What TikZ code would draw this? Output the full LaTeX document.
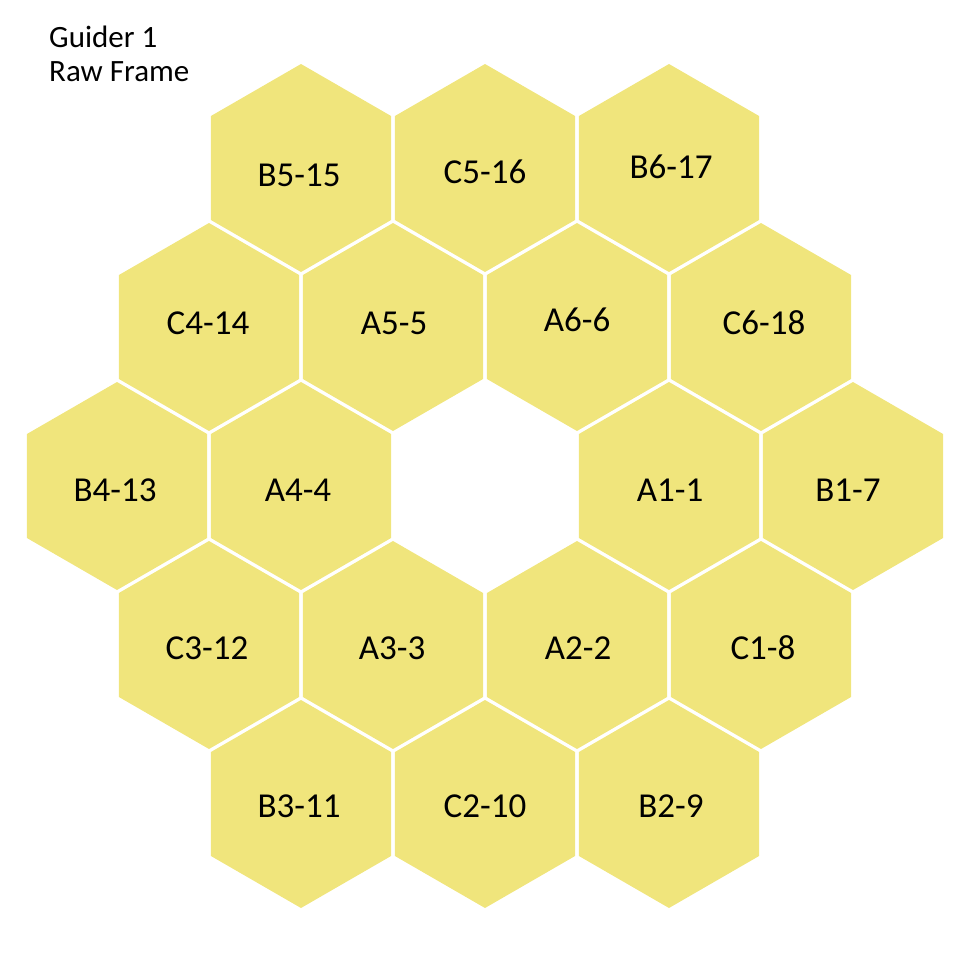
\documentclass[tikz,border=0pt]{standalone}
\usepackage{fontspec}
\setmainfont{Carlito}
\usetikzlibrary{shapes.geometric}
\definecolor{hexfill}{RGB}{240,229,124}
\begin{document}
\begin{tikzpicture}[x=1pt,y=-1pt,
  hexcell/.style={regular polygon, regular polygon sides=6, shape border rotate=30,
    minimum size=208pt, inner sep=0pt, outer sep=0pt, fill=hexfill, draw=none},
  hexlabel/.style={font=\fontsize{35}{42}\selectfont, text=black, inner sep=0pt},
  titletext/.style={font=\fontsize{31}{34}\selectfont, anchor=base west, inner sep=0pt}]
\useasboundingbox (0,0) rectangle (970,954);
% row 0
\node[hexcell] (hB5) at (301,168) {};
\node[hexcell] (hC5) at (485,168) {};
\node[hexcell] (hB6) at (669,168) {};
% row 1
\node[hexcell] (hC4) at (209,327) {};
\node[hexcell] (hA5) at (393,327) {};
\node[hexcell] (hA6) at (577,327) {};
\node[hexcell] (hC6) at (761,327) {};
% row 2
\node[hexcell] (hB4) at (117,486) {};
\node[hexcell] (hA4) at (301,486) {};
\node[hexcell] (hA1) at (669,486) {};
\node[hexcell] (hB1) at (853,486) {};
% row 3
\node[hexcell] (hC3) at (209,645) {};
\node[hexcell] (hA3) at (393,645) {};
\node[hexcell] (hA2) at (577,645) {};
\node[hexcell] (hC1) at (761,645) {};
% row 4
\node[hexcell] (hB3) at (301,804) {};
\node[hexcell] (hC2) at (485,804) {};
\node[hexcell] (hB2) at (669,804) {};
% labels
\node[hexlabel] (lB5) at (299,175) {B5-15};
\node[hexlabel] (lC5) at (485,172) {C5-16};
\node[hexlabel] (lB6) at (671,167) {B6-17};
\node[hexlabel] (lC4) at (208,323) {C4-14};
\node[hexlabel] (lA5) at (394,323) {A5-5};
\node[hexlabel] (lA6) at (577,320) {A6-6};
\node[hexlabel] (lC6) at (764,323) {C6-18};
\node[hexlabel] (lB4) at (115,490) {B4-13};
\node[hexlabel] (lA4) at (298,490) {A4-4};
\node[hexlabel] (lA1) at (670,490) {A1-1};
\node[hexlabel] (lB1) at (848,490) {B1-7};
\node[hexlabel] (lC3) at (207,648) {C3-12};
\node[hexlabel] (lA3) at (392,648) {A3-3};
\node[hexlabel] (lA2) at (578,648) {A2-2};
\node[hexlabel] (lC1) at (763,648) {C1-8};
\node[hexlabel] (lB3) at (299,806) {B3-11};
\node[hexlabel] (lC2) at (485,806) {C2-10};
\node[hexlabel] (lB2) at (671,806) {B2-9};
% title
\node[titletext] (t1) at (49,47) {Guider 1};
\node[titletext] (t2) at (49,81) {Raw Frame};
\end{tikzpicture}
\end{document}
